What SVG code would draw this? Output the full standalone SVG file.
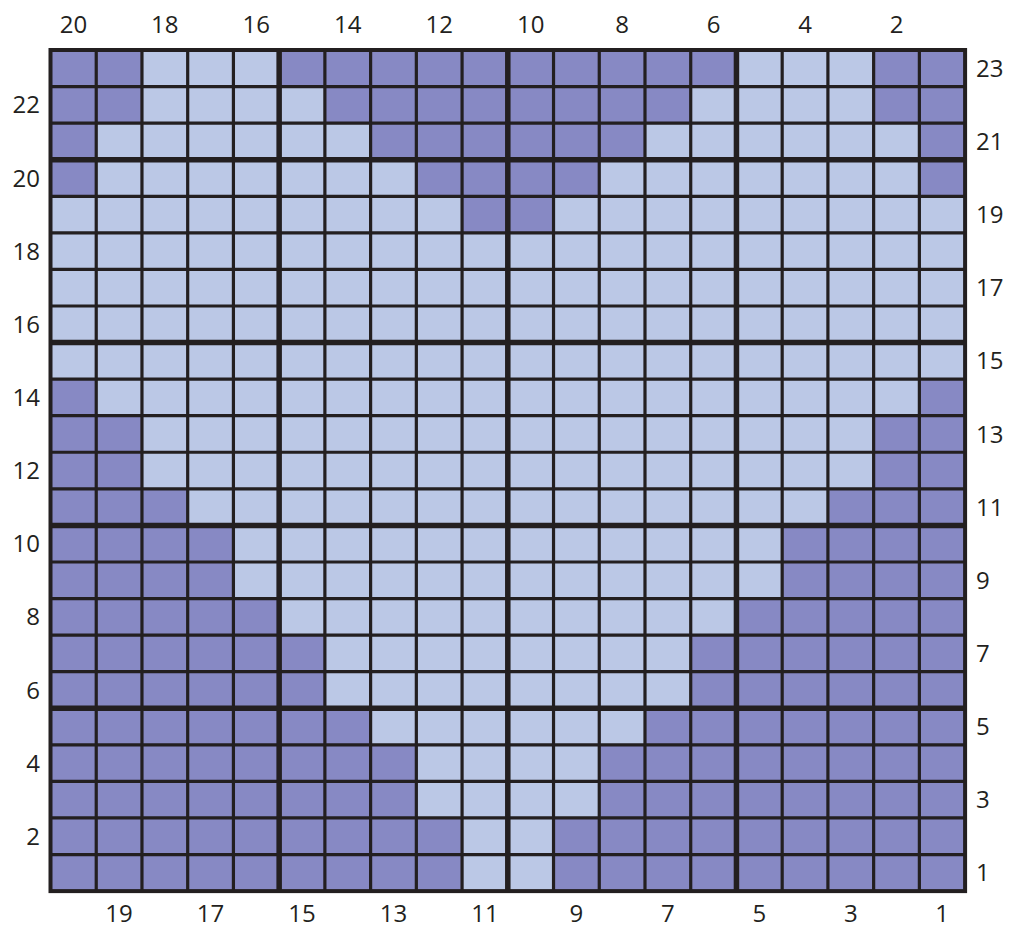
<svg xmlns="http://www.w3.org/2000/svg" width="1009" height="929" viewBox="0 0 1009 929">
<style>
.bg{fill:#FFFFFF}
.light{fill:#BBC8E6}
.dark{fill:#8789C4}
.thin{stroke:#231F20;stroke-width:3.2;fill:none}
.thick{stroke:#231F20;stroke-width:5.5;fill:none}
.border{stroke:#231F20;stroke-width:4;fill:none}
text{font-family:"Open Sans","Noto Sans","DejaVu Sans",sans-serif;font-size:24px;fill:#231F20}
.mid{text-anchor:middle}
.end{text-anchor:end}
.start{text-anchor:start}
</style>
<rect class="bg" x="0" y="0" width="1009" height="929"/>
<g id="cells">
<rect class="light" x="50.5" y="50" width="914.6" height="841.11"/>
<g id="row23"><rect class="dark" x="50.5" y="50" width="91.46" height="36.57"/><rect class="dark" x="279.15" y="50" width="457.3" height="36.57"/><rect class="dark" x="873.64" y="50" width="91.46" height="36.57"/></g>
<g id="row22"><rect class="dark" x="50.5" y="86.57" width="91.46" height="36.57"/><rect class="dark" x="324.88" y="86.57" width="365.84" height="36.57"/><rect class="dark" x="873.64" y="86.57" width="91.46" height="36.57"/></g>
<g id="row21"><rect class="dark" x="50.5" y="123.14" width="45.73" height="36.57"/><rect class="dark" x="370.61" y="123.14" width="274.38" height="36.57"/><rect class="dark" x="919.37" y="123.14" width="45.73" height="36.57"/></g>
<g id="row20"><rect class="dark" x="50.5" y="159.71" width="45.73" height="36.57"/><rect class="dark" x="416.34" y="159.71" width="182.92" height="36.57"/><rect class="dark" x="919.37" y="159.71" width="45.73" height="36.57"/></g>
<g id="row19"><rect class="dark" x="462.07" y="196.28" width="91.46" height="36.57"/></g>
<g id="row14"><rect class="dark" x="50.5" y="379.13" width="45.73" height="36.57"/><rect class="dark" x="919.37" y="379.13" width="45.73" height="36.57"/></g>
<g id="row13"><rect class="dark" x="50.5" y="415.7" width="91.46" height="36.57"/><rect class="dark" x="873.64" y="415.7" width="91.46" height="36.57"/></g>
<g id="row12"><rect class="dark" x="50.5" y="452.27" width="91.46" height="36.57"/><rect class="dark" x="873.64" y="452.27" width="91.46" height="36.57"/></g>
<g id="row11"><rect class="dark" x="50.5" y="488.84" width="137.19" height="36.57"/><rect class="dark" x="827.91" y="488.84" width="137.19" height="36.57"/></g>
<g id="row10"><rect class="dark" x="50.5" y="525.41" width="182.92" height="36.57"/><rect class="dark" x="782.18" y="525.41" width="182.92" height="36.57"/></g>
<g id="row9"><rect class="dark" x="50.5" y="561.98" width="182.92" height="36.57"/><rect class="dark" x="782.18" y="561.98" width="182.92" height="36.57"/></g>
<g id="row8"><rect class="dark" x="50.5" y="598.55" width="228.65" height="36.57"/><rect class="dark" x="736.45" y="598.55" width="228.65" height="36.57"/></g>
<g id="row7"><rect class="dark" x="50.5" y="635.12" width="274.38" height="36.57"/><rect class="dark" x="690.72" y="635.12" width="274.38" height="36.57"/></g>
<g id="row6"><rect class="dark" x="50.5" y="671.69" width="274.38" height="36.57"/><rect class="dark" x="690.72" y="671.69" width="274.38" height="36.57"/></g>
<g id="row5"><rect class="dark" x="50.5" y="708.26" width="320.11" height="36.57"/><rect class="dark" x="644.99" y="708.26" width="320.11" height="36.57"/></g>
<g id="row4"><rect class="dark" x="50.5" y="744.83" width="365.84" height="36.57"/><rect class="dark" x="599.26" y="744.83" width="365.84" height="36.57"/></g>
<g id="row3"><rect class="dark" x="50.5" y="781.4" width="365.84" height="36.57"/><rect class="dark" x="599.26" y="781.4" width="365.84" height="36.57"/></g>
<g id="row2"><rect class="dark" x="50.5" y="817.97" width="411.57" height="36.57"/><rect class="dark" x="553.53" y="817.97" width="411.57" height="36.57"/></g>
<g id="row1"><rect class="dark" x="50.5" y="854.54" width="411.57" height="36.57"/><rect class="dark" x="553.53" y="854.54" width="411.57" height="36.57"/></g>
</g>
<g id="gridlines">
<path class="thin" d="M96.23 50V891.11M141.96 50V891.11M187.69 50V891.11M233.42 50V891.11M324.88 50V891.11M370.61 50V891.11M416.34 50V891.11M462.07 50V891.11M553.53 50V891.11M599.26 50V891.11M644.99 50V891.11M690.72 50V891.11M782.18 50V891.11M827.91 50V891.11M873.64 50V891.11M919.37 50V891.11"/>
<path class="thin" d="M50.5 86.57H965.1M50.5 123.14H965.1M50.5 196.28H965.1M50.5 232.85H965.1M50.5 269.42H965.1M50.5 305.99H965.1M50.5 379.13H965.1M50.5 415.7H965.1M50.5 452.27H965.1M50.5 488.84H965.1M50.5 561.98H965.1M50.5 598.55H965.1M50.5 635.12H965.1M50.5 671.69H965.1M50.5 744.83H965.1M50.5 781.4H965.1M50.5 817.97H965.1M50.5 854.54H965.1"/>
<path class="thick" d="M279.15 50V891.11M507.8 50V891.11M736.45 50V891.11M50.5 159.71H965.1M50.5 342.56H965.1M50.5 525.41H965.1M50.5 708.26H965.1"/>
<rect class="border" x="50.5" y="50" width="914.6" height="841.11"/>
</g>
<g id="top-labels">
<text class="mid" x="73.4" y="33">20</text>
<text class="mid" x="164.8" y="33">18</text>
<text class="mid" x="256.3" y="33">16</text>
<text class="mid" x="347.7" y="33">14</text>
<text class="mid" x="439.2" y="33">12</text>
<text class="mid" x="530.7" y="33">10</text>
<text class="mid" x="622.1" y="33">8</text>
<text class="mid" x="713.6" y="33">6</text>
<text class="mid" x="805.0" y="33">4</text>
<text class="mid" x="896.5" y="33">2</text>
</g>
<g id="bottom-labels">
<text class="mid" x="119.1" y="922">19</text>
<text class="mid" x="210.6" y="922">17</text>
<text class="mid" x="302.0" y="922">15</text>
<text class="mid" x="393.5" y="922">13</text>
<text class="mid" x="484.9" y="922">11</text>
<text class="mid" x="576.4" y="922">9</text>
<text class="mid" x="667.9" y="922">7</text>
<text class="mid" x="759.3" y="922">5</text>
<text class="mid" x="850.8" y="922">3</text>
<text class="mid" x="942.2" y="922">1</text>
</g>
<g id="left-labels">
<text class="end" x="40" y="113.4">22</text>
<text class="end" x="40" y="186.5">20</text>
<text class="end" x="40" y="259.6">18</text>
<text class="end" x="40" y="332.8">16</text>
<text class="end" x="40" y="405.9">14</text>
<text class="end" x="40" y="479.1">12</text>
<text class="end" x="40" y="552.2">10</text>
<text class="end" x="40" y="625.3">8</text>
<text class="end" x="40" y="698.5">6</text>
<text class="end" x="40" y="771.6">4</text>
<text class="end" x="40" y="844.8">2</text>
</g>
<g id="right-labels">
<text class="start" x="976" y="76.8">23</text>
<text class="start" x="976" y="149.9">21</text>
<text class="start" x="976" y="223.1">19</text>
<text class="start" x="976" y="296.2">17</text>
<text class="start" x="976" y="369.3">15</text>
<text class="start" x="976" y="442.5">13</text>
<text class="start" x="976" y="515.6">11</text>
<text class="start" x="976" y="588.8">9</text>
<text class="start" x="976" y="661.9">7</text>
<text class="start" x="976" y="735">5</text>
<text class="start" x="976" y="808.2">3</text>
<text class="start" x="976" y="881.3">1</text>
</g>
</svg>
